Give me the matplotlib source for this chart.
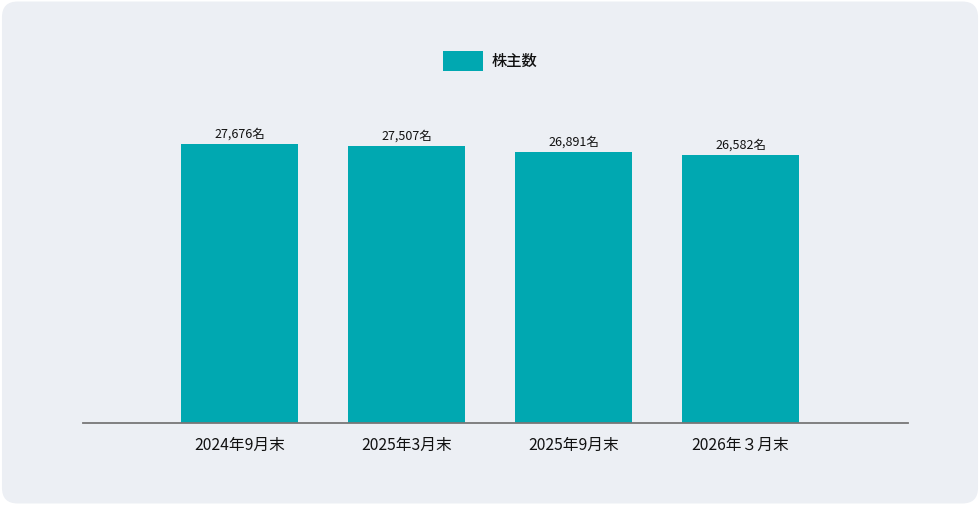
import matplotlib
matplotlib.use("Agg")
import matplotlib.pyplot as plt
from matplotlib.patches import FancyBboxPatch, Rectangle

plt.rcParams['font.family'] = ['Noto Sans CJK JP', 'DejaVu Sans']

# data
categories = ["2024年9月末", "2025年3月末", "2025年9月末", "2026年３月末"]
shareholders = [27676, 27507, 26891, 26582]
series_name = "株主数"

bar_color = "#00A8B1"
bg_color = "#ECEFF4"

fig = plt.figure(figsize=(9.8, 5.05), dpi=100)
fig.patch.set_facecolor("white")

# rounded background panel
bg = FancyBboxPatch((0.002, 0.003), 0.996, 0.994,
                    boxstyle="round,pad=0,rounding_size=0.016",
                    transform=fig.transFigure, facecolor=bg_color,
                    edgecolor="none", mutation_aspect=980 / 505, zorder=-5)
fig.patches.append(bg)

ax = fig.add_axes([83 / 980, 82 / 505, 825 / 980, 323 / 505])
ax.set_facecolor("none")

x = list(range(len(categories)))
bars = ax.bar(x, shareholders, width=0.7, color=bar_color, zorder=2)

for xi, v in zip(x, shareholders):
    ax.annotate(f"{v:,}名", (xi, v), xytext=(0, 2.5), textcoords="offset points",
                ha="center", va="bottom", fontsize=9, color="#111111")

ax.set_xlim(-0.937, 4.003)
ax.set_ylim(0, 32040)
ax.set_xticks(x)
ax.set_xticklabels(categories, fontsize=11.3, color="#111111")
ax.tick_params(axis="x", length=0, pad=10)
ax.set_yticks([])
for side in ["top", "right", "left"]:
    ax.spines[side].set_visible(False)
ax.spines["bottom"].set_color("#777777")
ax.spines["bottom"].set_linewidth(1.3)
ax.spines["bottom"].set_zorder(3)

# legend at top center
fig.patches.append(Rectangle((443 / 980, 1 - 71 / 505), 40 / 980, 20 / 505,
                             transform=fig.transFigure, facecolor=bar_color,
                             edgecolor="none"))
fig.text(492 / 980, 1 - 61 / 505, series_name, fontsize=11, color="#111111",
         ha="left", va="center", fontweight="medium")

fig.savefig("out.png", dpi=100, facecolor=fig.get_facecolor())
